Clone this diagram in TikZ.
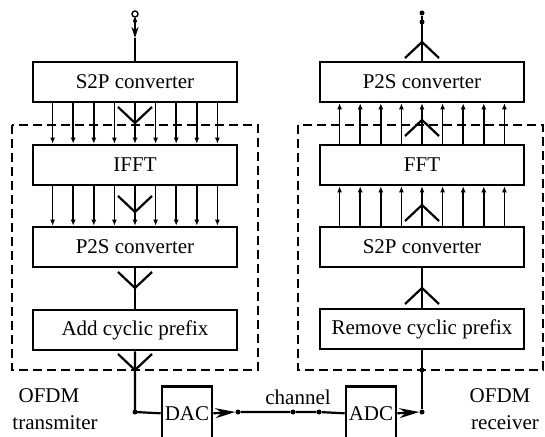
\documentclass[tikz,border=0pt]{standalone}
\usepackage{fontspec}
\setmainfont{Liberation Serif}
\usetikzlibrary{arrows.meta}
\tikzset{
        blocktext/.style={font=\fontsize{21}{24}\selectfont},
        % Processing blocks
        block/.style={blocktext, draw, line width=2.6pt, minimum width=204pt, minimum height=40pt, inner sep=0pt},
        % Converter blocks (DAC, ADC)
        conv_block/.style={block, minimum width=50pt, minimum height=54pt, anchor=north},
        % Parallel lines
        par_line/.style={line width=1.5pt, -{Latex[length=6pt,width=5pt]}},
        % Serial lines
        ser_line/.style={line width=2.2pt},
        % Transmitter / receiver frames
        frame/.style={line width=2.6pt, dash pattern=on 9pt off 5pt},
        % Junction dots
        jdot/.style={circle, fill, inner sep=0pt, minimum size=5pt},
        % Bus marks
        fork/.pic={\draw[line width=2.2pt] (-17pt,16pt) -- (0,0) -- (17pt,16pt);}
}
\begin{document}
\begin{tikzpicture}[x=1pt, y=-1pt]
            \useasboundingbox (0,0) rectangle (545,436);
            % transmitter
            \node[block] (s2p)  at (135,82)  {S2P converter};
            \node[block] (ifft) at (135,165) {IFFT};
            \node[block] (p2s)  at (135,247) {P2S converter};
            \node[block] (acp)  at (135,330) {Add cyclic prefix};
            \node[conv_block] (dac) at (187,385) {DAC};
            % receiver
            \node[block] (p2sR) at (422,82)  {P2S converter};
            \node[block] (fft)  at (422,165) {FFT};
            \node[block] (s2pR) at (422,247) {S2P converter};
            \node[block] (rcp)  at (422,329) {Remove cyclic prefix};
            \node[conv_block] (adc) at (371,385) {ADC};
            % frames
            \draw[frame] (12,125) rectangle (258,370);
            \draw[frame] (298,125) rectangle (543,370);
            % parallel lines
            \foreach \k in {-4,...,4} {
                \draw[par_line] ([xshift=\k*20.6pt]s2p.south) -- ([xshift=\k*20.6pt]ifft.north);
                \draw[par_line] ([xshift=\k*20.6pt]ifft.south) -- ([xshift=\k*20.6pt]p2s.north);
                \draw[par_line] ([xshift=\k*20.6pt]fft.north) -- ([xshift=\k*20.6pt]p2sR.south);
                \draw[par_line] ([xshift=\k*20.6pt]s2pR.north) -- ([xshift=\k*20.6pt]fft.south);
            }
            % serial lines
            \node[circle, draw, line width=1.4pt, minimum size=6pt, inner sep=0pt] (in) at (135,14) {};
            \node[jdot, minimum size=4pt] (indot) at (135,21) {};
            \coordinate (inarr) at (135,38);
            \draw[ser_line, -{Stealth[length=11pt,width=7pt]}] (in) -- (inarr);
            \draw[ser_line] (inarr) -- (s2p.north);
            \draw[ser_line] (p2s.south) -- (acp.north);
            \coordinate (tcorner) at (135,412);
            \draw[ser_line] (acp.south) -- (tcorner) -- (dac.west);
            \node[jdot] at (tcorner) {};
            \node[jdot] (ch1) at (238,412) {};
            \node[jdot] (ch2) at (293,412) {};
            \node[jdot] (ch3) at (319,412) {};
            \draw[ser_line, -{Stealth[length=20pt,width=10pt]}] (dac.east) -- (ch1.west);
            \draw[ser_line] (ch1) -- (ch2) -- (ch3) -- (adc.west);
            \node[jdot] (rcorner) at (422,412) {};
            \draw[ser_line, -{Stealth[length=20pt,width=10pt]}] (adc.east) -- (rcorner.west);
            \draw[ser_line] (rcorner) -- (rcp.south);
            \node[jdot] at (422,370) {};
            \draw[ser_line] (rcp.north) -- (s2pR.south);
            \node[jdot] (out) at (422,13) {};
            \node[jdot] (outdot) at (422,22) {};
            \draw[ser_line] (p2sR.north) -- (out);
            % bus marks
            \pic at (135,123) {fork};
            \pic at (135,212) {fork};
            \pic at (135,288) {fork};
            \pic at (135,370) {fork};
            \pic[rotate=180] at (422,42)  {fork};
            \pic[rotate=180] at (422,120) {fork};
            \pic[rotate=180] at (422,205) {fork};
            \pic[rotate=180] at (422,288) {fork};
            % labels
            \node[blocktext] (chan) at (298,397) {channel};
            \node[blocktext] (txa) at (49,396) {OFDM};
            \node[blocktext] (txb) at (55,423) {transmiter};
            \node[blocktext] (rxa) at (500,396) {OFDM};
            \node[blocktext] (rxb) at (505,423) {receiver};
\end{tikzpicture}
\end{document}
